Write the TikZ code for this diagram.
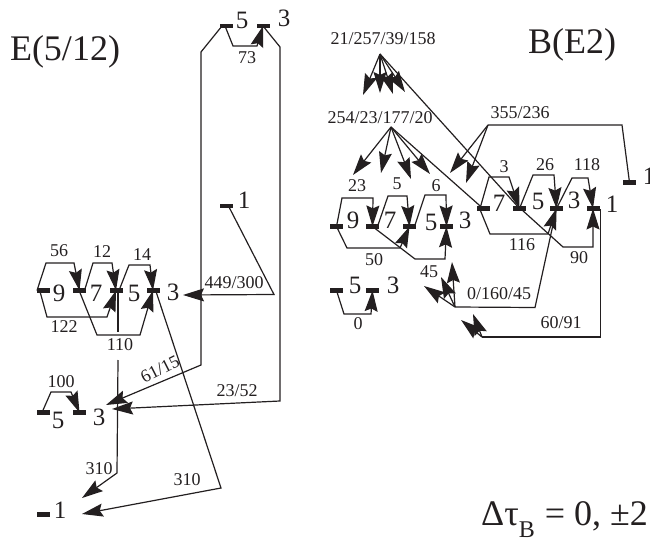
\documentclass[tikz,border=0pt]{standalone}
\usepackage{fontspec}
\setmainfont{Liberation Serif}
\usetikzlibrary{arrows.meta}
\definecolor{ink}{HTML}{231F20}
\tikzset{
  bar/.style={fill=ink,inner sep=0pt,minimum width=13pt,minimum height=4.2pt},
  lvl/.style={inner sep=0pt,text=ink,font=\fontsize{25}{25}\selectfont},
  lab/.style={inner sep=0pt,text=ink,font=\fontsize{18}{18}\selectfont},
  ttl/.style={inner sep=0pt,text=ink,font=\fontsize{36}{36}\selectfont},
  line/.style={draw=ink,line width=1.2pt,line join=miter},
  arr/.style={line,-{Stealth[length=21pt,width=13pt,inset=3pt]}}
}
\begin{document}
\begin{tikzpicture}[x=1pt,y=-1pt]
\useasboundingbox (0,0) rectangle (650,540);
% titles
\node[ttl] (t1) at (65,52) {E(5/12)};
\node[ttl] (t2) at (572,45) {B(E2)};
\node[ttl,anchor=base west] (t3) at (481,525) {Δτ\raisebox{-12pt}{\fontsize{24}{24}\selectfont B}\hspace{10pt}= 0, ±2};
% left group bars
\node[bar] (a9) at (43,290.5) {};
\node[bar] (a7) at (79.5,290.5) {};
\node[bar] (a5) at (116,290.5) {};
\node[bar] (a3) at (153,290.5) {};
\node[bar] (b5) at (43,412.5) {};
\node[bar] (b3) at (79.5,412.5) {};
\node[bar] (c1) at (43,514.5) {};
\node[bar] (d5) at (226,26) {};
\node[bar] (d3) at (263,26) {};
\node[bar] (e1) at (226,206) {};
% levels
\node[lvl] (la9) at (59,293) {9};
\node[lvl] (la7) at (96,293) {7};
\node[lvl] (la5) at (134,293) {5};
\node[lvl] (la3) at (173,292) {3};
\node[lvl] (lb5) at (58,420) {5};
\node[lvl] (lb3) at (99,417) {3};
\node[lvl] (lc1) at (60,510) {1};
\node[lvl] (ld5) at (242,20) {5};
\node[lvl] (ld3) at (284,18) {3};
\node[lvl] (le1) at (244,200) {1};
% left labels
\node[lab] (n56) at (59,251) {56};
\node[lab] (n12) at (102,252) {12};
\node[lab] (n14) at (142,255) {14};
\node[lab] (n122) at (64,327) {122};
\node[lab] (n110) at (120,345) {110};
\node[lab] (n100) at (61,382) {100};
\node[lab,rotate=27] (n6115) at (160,369) {61/15};
\node[lab] (n2352) at (237,391) {23/52};
\node[lab] (n310a) at (99,469) {310};
\node[lab] (n310b) at (187,480) {310};
\node[lab] (n449) at (234,283) {449/300};
\node[lab] (n73) at (247,58) {73};
% free ends
\coordinate (ta3) at (183,295);
\coordinate (tb3a) at (106,405);
\coordinate (tb3b) at (112,409);
\coordinate (tc1a) at (82,498);
\coordinate (tc1b) at (82,514);
% left connectors
\draw[arr] (a9.center) ++(-6,0) -- (46,263) -- (74,263) -- (a7.center);
\draw[arr] (a7.center) ++(5,0) -- (93,263) -- (112,263) -- (a5.center);
\draw[arr] (a5.center) ++(3,0) -- (129,265) -- (150,265) -- (a3.center);
\draw[arr] (a9.center) ++(-3,1) -- (47,317) -- (107,317) -- (a5.center);
\draw[arr] (a7.center) ++(0,1) -- (97,335) -- (140,335) -- (a3.center);
\draw[line] (a5.center) ++(2,0) -- (118,332);
\draw[arr] (118,360) -- (117,473) -- (tc1a);
\draw[arr] (a3.center) ++(3,1) -- (221,488) -- (tc1b);
\draw[arr] (b5.center) ++(-1,0) -- (51,392) -- (71,392) -- (b3.center);
\draw[arr] (e1.center) ++(3,1) -- (274,294.5) -- (ta3);
\draw[arr] (d5.center) ++(-4,0) -- (201,52) -- (201,365) -- (tb3a);
\draw[arr] (d3.center) -- (280,47) -- (280,401) -- (tb3b);
\draw[arr] (d5.center) ++(-1,0) -- (233,46) -- (257,46) -- (d3.center);
% right group bars
\node[bar] (f9) at (336.5,226.5) {};
\node[bar] (f7) at (372.5,226.5) {};
\node[bar] (f5) at (409.5,226.5) {};
\node[bar] (f3) at (446.5,226.5) {};
\node[bar] (g5) at (336.5,290.5) {};
\node[bar] (g3) at (372.5,290.5) {};
\node[bar] (h7) at (483,208.5) {};
\node[bar] (h5) at (519.5,208.5) {};
\node[bar] (h3) at (556.5,208.5) {};
\node[bar] (h1) at (593,208.5) {};
\node[bar] (i1) at (629.5,182.5) {};
% right levels
\node[lvl] (lf9) at (353,220) {9};
\node[lvl] (lf7) at (390,220) {7};
\node[lvl] (lf5) at (431,222) {5};
\node[lvl] (lf3) at (465,220) {3};
\node[lvl] (lg5) at (355,285) {5};
\node[lvl] (lg3) at (393,285) {3};
\node[lvl] (lh7) at (499,203) {7};
\node[lvl] (lh5) at (538,201) {5};
\node[lvl] (lh3) at (574,200) {3};
\node[lvl] (lh1) at (612,204) {1};
\node[lvl] (li1) at (649,176) {1};
% right labels
\node[lab] (m1) at (383,39) {21/257/39/158};
\node[lab] (m2) at (380,118) {254/23/177/20};
\node[lab] (m3) at (520,113) {355/236};
\node[lab] (m23) at (357,186) {23};
\node[lab] (m5) at (397,184) {5};
\node[lab] (m6) at (436,186) {6};
\node[lab] (m50) at (374,260) {50};
\node[lab] (m0) at (358,324) {0};
\node[lab] (m45) at (429,272) {45};
\node[lab] (m0160) at (499,294) {0/160/45};
\node[lab] (m6091) at (561,323) {60/91};
\node[lab] (mm3) at (504,167) {3};
\node[lab] (m26) at (545,165) {26};
\node[lab] (m118) at (587,165) {118};
\node[lab] (m116) at (522,245) {116};
\node[lab] (m90) at (579,258) {90};
% apexes and free ends
\coordinate (p1) at (380,54);
\coordinate (p2) at (391,127);
\coordinate (p3) at (488,125);
\coordinate (p4) at (455,307);
\coordinate (p5) at (482,337);
% fan arrows
\draw[arr] (p1) -- (363,95);
\draw[arr] (p1) -- (380,93);
\draw[arr] (p1) -- (393,94);
\draw[arr] (p1) -- (405,92);
\draw[line] (p1) -- (h5.center);
\draw[arr] (p2) -- (353,175);
\draw[arr] (p2) -- (381,173);
\draw[arr] (p2) -- (411,179);
\draw[arr] (p2) -- (430,174);
\draw[line] (p2) -- (h7.center);
\draw[arr] (p3) -- (450,173);
\draw[arr] (p3) -- (466,183);
\draw[line] (p3) -- (622,125) -- (i1.center);
\draw[arr] (p4) -- (452,262);
\draw[arr] (p4) -- (441,277);
\draw[arr] (p4) -- (424,286);
\draw[line] (p4) -- (535,307.5) -- (h3.center);
\draw[arr] (p5) -- (461,320);
\draw[arr] (p5) -- (473,314);
\draw[line] (p5) -- (600.5,337) -- (600.5,208.5);
% right connectors
\draw[arr] (f9.center) -- (342,198) -- (373,198) -- (f7.center);
\draw[arr] (f7.center) ++(5,0) -- (388,196) -- (407,196) -- (f5.center);
\draw[arr] (f5.center) ++(5,0) -- (425,195) -- (446,195) -- (f3.center);
\draw[arr] (f9.center) -- (347,248) -- (400,248) -- (f5.center);
\draw[arr] (f7.center) -- (415,259) -- (445,259) -- (f3.center);
\draw[arr] (g5.center) -- (344,314) -- (371,314) -- (g3.center);
\draw[arr] (h7.center) ++(-3,0) -- (489,177) -- (509,177) -- (h5.center);
\draw[arr] (h5.center) -- (533,175) -- (554,175) -- (h3.center);
\draw[arr] (h3.center) -- (572,178) -- (588,178) -- (h1.center);
\draw[arr] (h7.center) ++(-3,1) -- (490,234) -- (548,234) -- (h3.center);
\draw[arr] (h5.center) ++(2,1) -- (563,247) -- (593,247) -- (h1.center);
\end{tikzpicture}
\end{document}
